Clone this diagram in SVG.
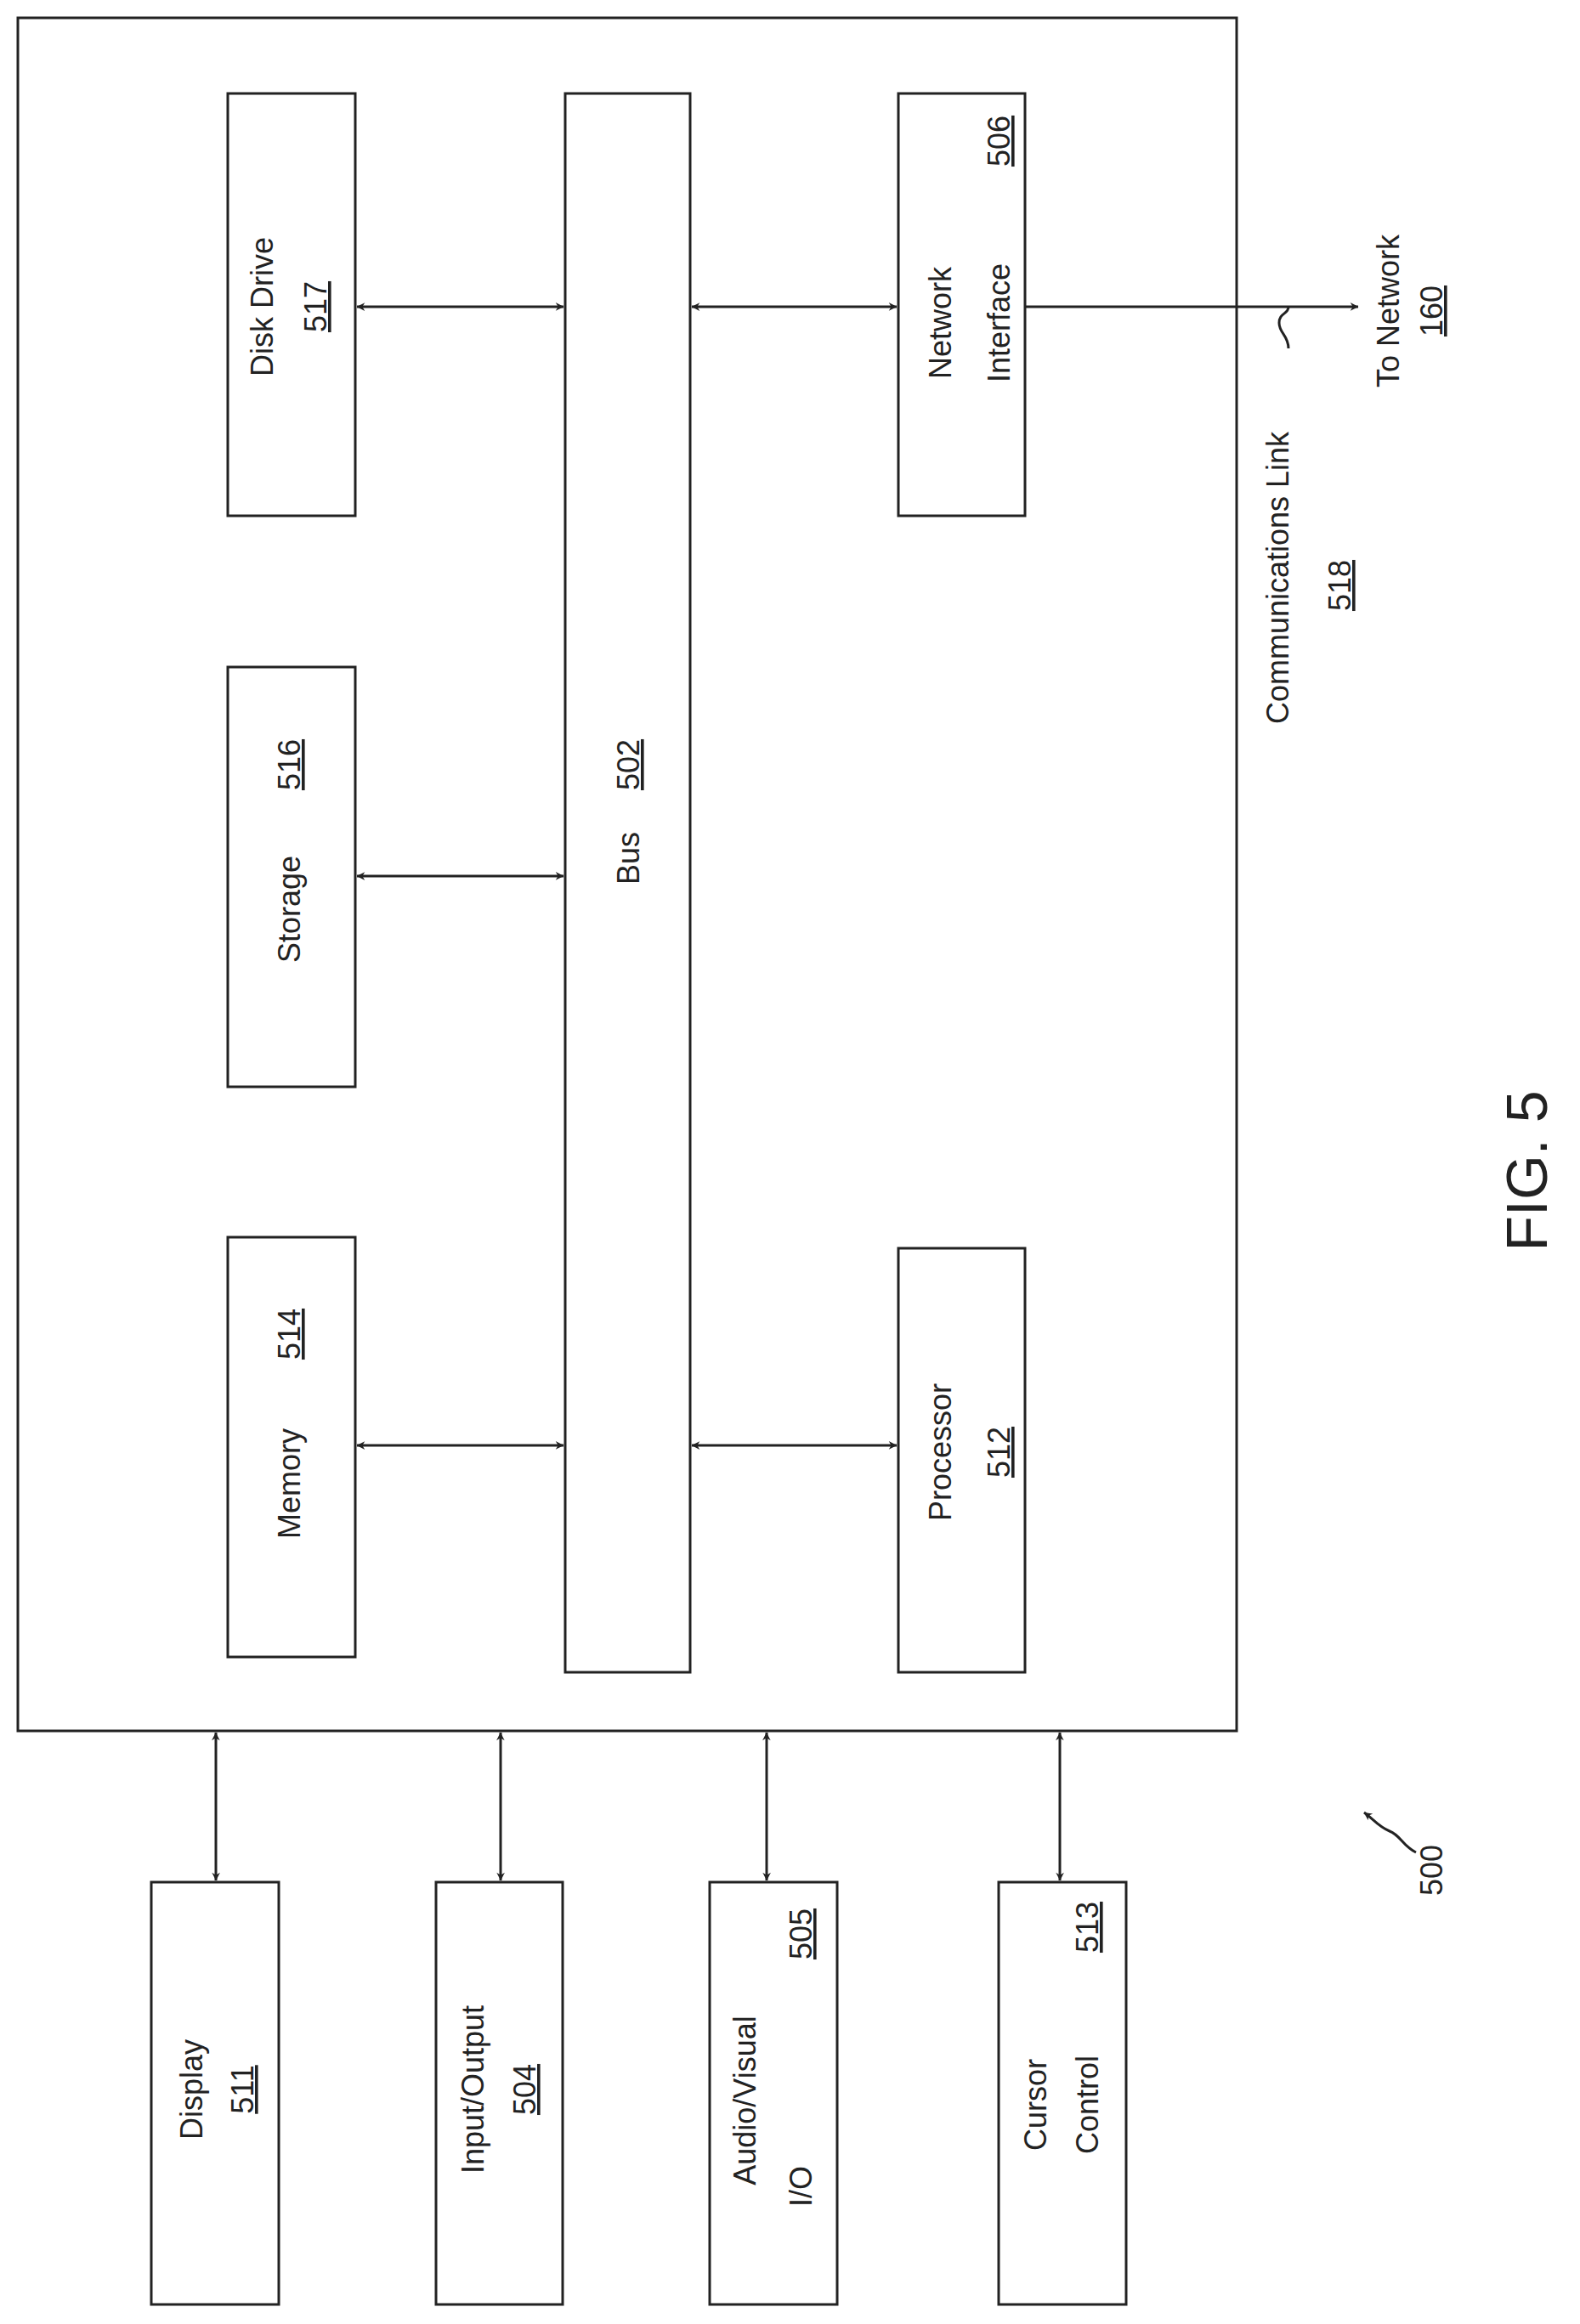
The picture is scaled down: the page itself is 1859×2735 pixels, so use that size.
<svg xmlns="http://www.w3.org/2000/svg" width="1859" height="2735" viewBox="0 0 1859 2735">
<style>
rect{fill:none;stroke:#222;stroke-width:3}
text{font-family:"Liberation Sans",Arial,sans-serif;font-size:36px;fill:#222;text-anchor:middle}
.u{text-decoration:underline}
.c line,.c path{stroke:#222;stroke-width:3;fill:none}
</style>
<defs>
<marker id="a" viewBox="0 0 10 10" refX="9" refY="5" markerWidth="6" markerHeight="6" orient="auto-start-reverse" markerUnits="userSpaceOnUse" style="overflow:visible"><path d="M0,0 L10,5 L0,10 L3,5 Z" fill="#222" transform="scale(1.6) translate(-4,-2)"/></marker>
</defs>
<g id="outer"><rect x="21" y="21" width="1434" height="2016"/></g>
<g id="disk"><rect x="268" y="110" width="150" height="497"/><text transform="translate(321,361) rotate(-90)">Disk Drive</text><text class="u" transform="translate(384,361) rotate(-90)">517</text></g>
<g id="bus"><rect x="665" y="110" width="147" height="1858"/><text transform="translate(752,1010) rotate(-90)">Bus</text><text class="u" transform="translate(752,900) rotate(-90)">502</text></g>
<g id="net"><rect x="1057" y="110" width="149" height="497"/><text transform="translate(1119,380) rotate(-90)">Network</text><text transform="translate(1188,380) rotate(-90)">Interface</text><text class="u" transform="translate(1188,166) rotate(-90)">506</text></g>
<g id="storage"><rect x="268" y="785" width="150" height="494"/><text transform="translate(353,1070) rotate(-90)">Storage</text><text class="u" transform="translate(353,900) rotate(-90)">516</text></g>
<g id="memory"><rect x="268" y="1456" width="150" height="494"/><text transform="translate(353,1746) rotate(-90)">Memory</text><text class="u" transform="translate(353,1570) rotate(-90)">514</text></g>
<g id="proc"><rect x="1057" y="1469" width="149" height="499"/><text transform="translate(1119,1709) rotate(-90)">Processor</text><text class="u" transform="translate(1188,1709) rotate(-90)">512</text></g>
<g id="display"><rect x="178" y="2215" width="150" height="497"/><text transform="translate(238,2459) rotate(-90)">Display</text><text class="u" transform="translate(298,2459) rotate(-90)">511</text></g>
<g id="io"><rect x="513" y="2215" width="149" height="497"/><text transform="translate(569,2459) rotate(-90)">Input/Output</text><text class="u" transform="translate(630,2459) rotate(-90)">504</text></g>
<g id="av"><rect x="835" y="2215" width="150" height="497"/><text transform="translate(889,2472) rotate(-90)">Audio/Visual</text><text transform="translate(955,2573) rotate(-90)">I/O</text><text class="u" transform="translate(955,2276) rotate(-90)">505</text></g>
<g id="cursor"><rect x="1175" y="2215" width="150" height="497"/><text transform="translate(1231,2477) rotate(-90)">Cursor</text><text transform="translate(1292,2477) rotate(-90)">Control</text><text class="u" transform="translate(1292,2268) rotate(-90)">513</text></g>
<g id="labels">
<text transform="translate(1516,680) rotate(-90)">Communications Link</text>
<text class="u" transform="translate(1589,689) rotate(-90)">518</text>
<text transform="translate(1646,366) rotate(-90)">To Network</text>
<text class="u" transform="translate(1697,366) rotate(-90)">160</text>
<text transform="translate(1697,2201) rotate(-90)">500</text>
<text style="font-size:68px" transform="translate(1820,1378) rotate(-90)">FIG. 5</text>
</g>
<g class="c" id="connectors">
<line x1="420" y1="361" x2="663" y2="361" marker-start="url(#a)" marker-end="url(#a)"/>
<line x1="814" y1="361" x2="1055" y2="361" marker-start="url(#a)" marker-end="url(#a)"/>
<line x1="1206" y1="361" x2="1598" y2="361" marker-end="url(#a)"/>
<line x1="420" y1="1031" x2="663" y2="1031" marker-start="url(#a)" marker-end="url(#a)"/>
<line x1="420" y1="1701" x2="663" y2="1701" marker-start="url(#a)" marker-end="url(#a)"/>
<line x1="814" y1="1701" x2="1055" y2="1701" marker-start="url(#a)" marker-end="url(#a)"/>
<line x1="254" y1="2039" x2="254" y2="2213" marker-start="url(#a)" marker-end="url(#a)"/>
<line x1="589" y1="2039" x2="589" y2="2213" marker-start="url(#a)" marker-end="url(#a)"/>
<line x1="902" y1="2039" x2="902" y2="2213" marker-start="url(#a)" marker-end="url(#a)"/>
<line x1="1247" y1="2039" x2="1247" y2="2213" marker-start="url(#a)" marker-end="url(#a)"/>
<path d="M1516,410 C1516,395 1505,392 1505,380 S1516,370 1516,361"/>
<path d="M1666,2180 C1650,2172 1648,2160 1635,2155 S1615,2140 1605,2133" marker-end="url(#a)"/>
</g>
</svg>
